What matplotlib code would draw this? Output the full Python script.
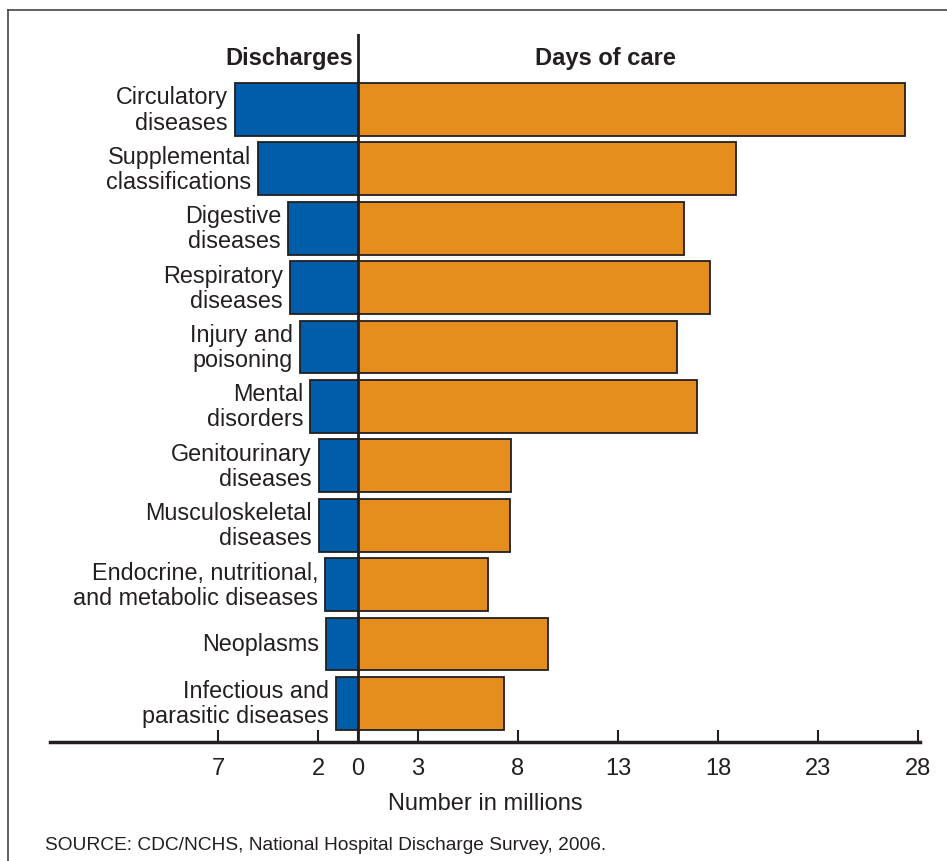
import numpy as np
import matplotlib
matplotlib.use('Agg')
import matplotlib.pyplot as plt
from matplotlib.lines import Line2D
from matplotlib.ticker import FuncFormatter

plt.rcParams['font.family'] = ['Liberation Sans', 'DejaVu Sans']

categories = ['Circulatory\ndiseases', 'Supplemental\nclassifications',
              'Digestive\ndiseases', 'Respiratory\ndiseases',
              'Injury and\npoisoning', 'Mental\ndisorders',
              'Genitourinary\ndiseases', 'Musculoskeletal\ndiseases',
              'Endocrine, nutritional,\nand metabolic diseases',
              'Neoplasms', 'Infectious and\nparasitic diseases']
discharges = [6.15, 5.0, 3.5, 3.4, 2.9, 2.4, 1.95, 1.95, 1.65, 1.6, 1.1]
days_of_care = [27.35, 18.9, 16.3, 17.6, 15.95, 16.95, 7.65, 7.6, 6.5, 9.5, 7.3]
tick_vals = [-7, -2, 0, 3, 8, 13, 18, 23, 28]

blue = '#005DA9'
orange = '#E58E1E'
edge = '#231f20'

fig = plt.figure(figsize=(9.47, 8.62), dpi=100)
ax = fig.add_axes([50/947, 1-743/862, 870/947, 708/862])

y = np.arange(len(categories))
ax.barh(y, [-d for d in discharges], height=0.89, color=blue, edgecolor=edge, linewidth=1.3)
ax.barh(y, days_of_care, height=0.89, color=orange, edgecolor=edge, linewidth=1.3)

for yi, d, lab in zip(y, discharges, categories):
    ax.annotate(lab, xy=(-d, yi), xytext=(-5, 0), textcoords='offset points',
                ha='right', va='center', fontsize=16.8, color='#231f20',
                linespacing=1.12)

ax.set_xlim((50-358)/20, (920-358)/20)
ax.set_ylim(10.65, -1.27)
ax.axvline(0, color=edge, lw=2)

for s in ['left', 'right', 'top']:
    ax.spines[s].set_visible(False)
ax.spines['bottom'].set_linewidth(2.5)
ax.spines['bottom'].set_color(edge)
ax.set_yticks([])
ax.set_xticks(tick_vals)
ax.xaxis.set_major_formatter(FuncFormatter(lambda v, p: f'{abs(v):g}'))
ax.tick_params(axis='x', direction='in', length=9, width=1.5, color=edge,
               pad=11, labelsize=17, labelcolor='#231f20')
ax.set_xlabel('Number in millions', fontsize=17, color='#231f20', labelpad=9)

ax.text(-0.25, -0.88, 'Discharges', ha='right', va='center', fontsize=17,
        fontweight='bold', color='#231f20')
ax.text(12.35, -0.88, 'Days of care', ha='center', va='center', fontsize=17,
        fontweight='bold', color='#231f20')

fig.text(45/947, 1-846/862, 'SOURCE: CDC/NCHS, National Hospital Discharge Survey, 2006.',
         ha='left', va='center', fontsize=13.8, color='#231f20')

# frame (top and left edges only)
fig.add_artist(Line2D([8/947, 1], [1-11/862, 1-11/862], color='#444444', lw=1.2))
fig.add_artist(Line2D([8/947, 8/947], [0, 1-11/862], color='#444444', lw=1.2))

fig.savefig('out.png', dpi=100)
